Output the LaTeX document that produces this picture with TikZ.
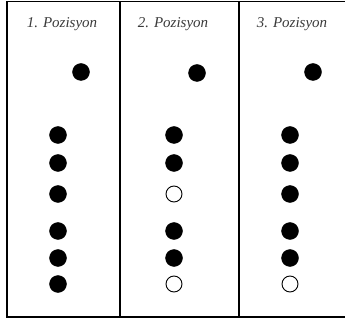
\documentclass[tikz,border=0pt]{standalone}
\usepackage{fontspec}
\setmainfont{Liberation Serif}
\usetikzlibrary{positioning}
\definecolor{PosInk}{HTML}{000000}
\definecolor{PosText}{HTML}{3A3A3A}

\begin{document}
\begin{tikzpicture}[
    x=1pt,y=-1pt,
    frame/.style={draw=PosInk,line width=1.6pt},
    title/.style={font=\itshape\fontsize{15}{17}\selectfont,text=PosText,inner sep=0pt},
    full/.style={circle,fill=PosInk,draw=PosInk,minimum size=17pt,inner sep=0pt},
    empty/.style={circle,fill=white,draw=PosInk,line width=0.9pt,minimum size=16pt,inner sep=0pt}
  ]
    \useasboundingbox (0,0) rectangle (345,320);
    % frame
    \draw[frame] (345,1.5) -- (7,1.5) -- (7,317) -- (345,317);
    \draw[frame] (120,1.5) -- (120,317);
    \draw[frame] (239,1.5) -- (239,317);
    % titles
    \node[title] (T1) at (62,24) {1. Pozisyon};
    \node[title] (T2) at (173,24) {2. Pozisyon};
    \node[title] (T3) at (292,24) {3. Pozisyon};
    % column 1
    \node[full] (A0) at (81,72) {};
    \node[full] (A1) at (58,135) {};
    \node[full] (A2) at (58,163) {};
    \node[full] (A3) at (58,194) {};
    \node[full] (A4) at (58,231) {};
    \node[full] (A5) at (58,258) {};
    \node[full] (A6) at (58,284) {};
    % column 2
    \node[full] (B0) at (197,73) {};
    \node[full] (B1) at (174,135) {};
    \node[full] (B2) at (174,163) {};
    \node[empty] (B3) at (174,194) {};
    \node[full] (B4) at (174,231) {};
    \node[full] (B5) at (174,258) {};
    \node[empty] (B6) at (174,284) {};
    % column 3
    \node[full] (C0) at (313,72) {};
    \node[full] (C1) at (290,135) {};
    \node[full] (C2) at (290,163) {};
    \node[full] (C3) at (290,194) {};
    \node[full] (C4) at (290,231) {};
    \node[full] (C5) at (290,258) {};
    \node[empty] (C6) at (290,284) {};
  \end{tikzpicture}
\end{document}
